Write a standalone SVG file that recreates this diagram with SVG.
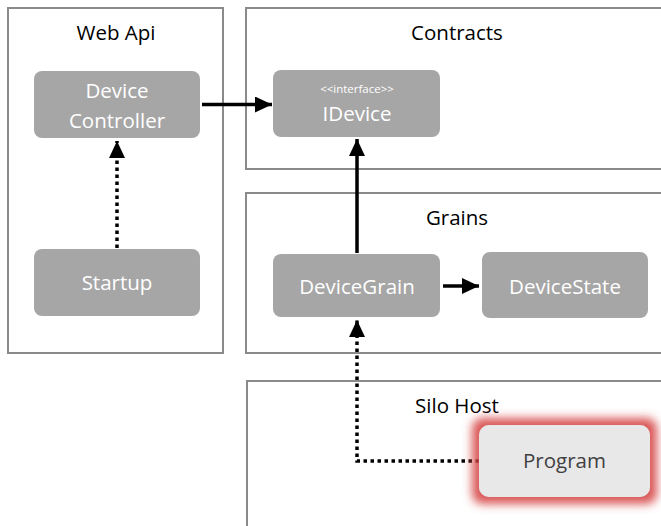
<svg xmlns="http://www.w3.org/2000/svg" width="661" height="526" viewBox="0 0 661 526">
<style>
.frame{fill:#ffffff;stroke:#8a8a8a;stroke-width:2}
.title{font-family:"Open Sans","Noto Sans",sans-serif;font-size:20.5px;fill:#000000;text-anchor:middle}
.node{fill:#a6a6a6}
.ntext{font-family:"Open Sans","Noto Sans",sans-serif;font-size:20.5px;fill:#ffffff;text-anchor:middle}
.small{font-family:"Open Sans","Noto Sans",sans-serif;font-size:11.5px;fill:#ffffff;text-anchor:middle}
.solid{fill:none;stroke:#000000;stroke-width:3.5}
.dotted{fill:none;stroke:#000000;stroke-width:3.5;stroke-dasharray:3.5 3.5}
</style>
<defs>
<marker id="arrow" markerUnits="userSpaceOnUse" markerWidth="18" markerHeight="16" refX="17" refY="8" orient="auto">
<path d="M0,0 L17,8 L0,16 z" fill="#000000"/>
</marker>
<filter id="glow" x="-30%" y="-60%" width="160%" height="220%">
<feMorphology in="SourceAlpha" operator="dilate" radius="7" result="d"/>
<feGaussianBlur in="d" stdDeviation="5" result="b"/>
<feFlood flood-color="#d64545" flood-opacity="0.9"/>
<feComposite in2="b" operator="in" result="g"/>
<feMerge><feMergeNode in="g"/><feMergeNode in="SourceGraphic"/></feMerge>
</filter>
</defs>

<g id="frame-webapi">
<rect class="frame" x="8" y="8" width="215" height="345"/>
<text class="title" x="116" y="40">Web Api</text>
</g>
<g id="frame-contracts">
<rect class="frame" x="246" y="8" width="430" height="161"/>
<text class="title" x="457" y="40">Contracts</text>
</g>
<g id="frame-grains">
<rect class="frame" x="246" y="193" width="430" height="160"/>
<text class="title" x="457" y="225">Grains</text>
</g>
<g id="frame-silohost">
<rect class="frame" x="247" y="381" width="430" height="160"/>
<text class="title" x="457" y="413">Silo Host</text>
</g>

<g id="connectors">
<line class="solid" x1="202" y1="104.5" x2="272" y2="104.5" marker-end="url(#arrow)"/>
<line class="dotted" x1="117" y1="248" x2="117" y2="141" marker-end="url(#arrow)"/>
<line class="solid" x1="357" y1="253" x2="357" y2="139" marker-end="url(#arrow)"/>
<line class="solid" x1="443" y1="286" x2="479" y2="286" marker-end="url(#arrow)"/>
<path class="dotted" d="M479,461 L357,461 L357,320" marker-end="url(#arrow)"/>
</g>

<g id="node-devicecontroller">
<rect class="node" x="34" y="71" width="166" height="67" rx="8"/>
<text class="ntext" x="117" y="98">Device</text>
<text class="ntext" x="117" y="128">Controller</text>
</g>
<g id="node-startup">
<rect class="node" x="34" y="249" width="166" height="67" rx="8"/>
<text class="ntext" x="117" y="290">Startup</text>
</g>
<g id="node-idevice">
<rect class="node" x="273" y="70" width="167" height="67" rx="8"/>
<text class="small" x="357" y="93">&lt;&lt;interface&gt;&gt;</text>
<text class="ntext" x="357" y="121">IDevice</text>
</g>
<g id="node-devicegrain">
<rect class="node" x="273" y="254" width="167" height="63" rx="8"/>
<text class="ntext" x="357" y="294">DeviceGrain</text>
</g>
<g id="node-devicestate">
<rect class="node" x="482" y="252" width="166" height="66" rx="8"/>
<text class="ntext" x="565" y="294">DeviceState</text>
</g>
<g id="node-program">
<rect x="479" y="425" width="171" height="72" rx="10" fill="#e8e8e8" filter="url(#glow)"/>
<text class="ntext" x="564.5" y="468" style="fill:#404040">Program</text>
</g>
</svg>
